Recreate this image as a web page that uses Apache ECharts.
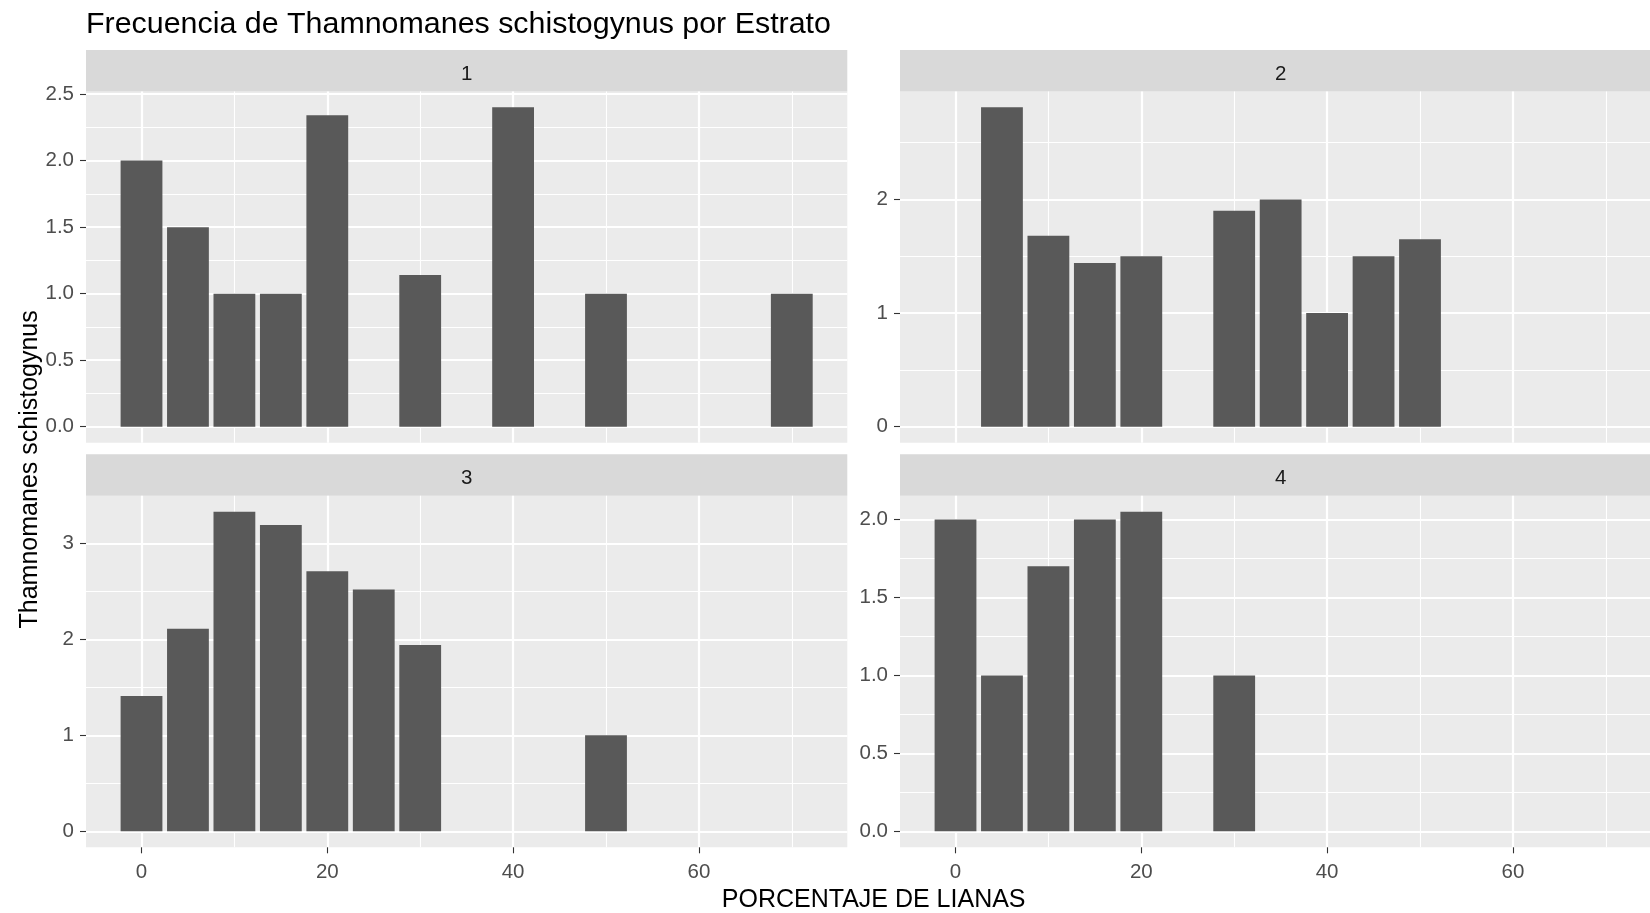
<!DOCTYPE html>
<html><head><meta charset="utf-8">
<script src="https://cdn.jsdelivr.net/npm/echarts@6/dist/echarts.min.js"></script>
<style>html,body{margin:0;padding:0;background:#fff}#c{width:1650px;height:913px}</style>
</head><body><div id="c"></div>
<script>
// ---- data ----
const titleText = 'Frecuencia de Thamnomanes schistogynus por Estrato';
const xTitle = 'PORCENTAJE DE LIANAS';
const yTitle = 'Thamnomanes schistogynus';
const panelNames = ['1', '2', '3', '4'];
const x1 = [0, 5, 10, 15, 20, 30, 40, 50, 70];
const y1 = [2.0, 1.5, 1.0, 1.0, 2.34, 1.14, 2.40, 1.0, 1.0];
const x2 = [5, 10, 15, 20, 30, 35, 40, 45, 50];
const y2 = [2.81, 1.68, 1.44, 1.5, 1.9, 2.0, 1.0, 1.5, 1.65];
const x3 = [0, 5, 10, 15, 20, 25, 30, 50];
const y3 = [1.41, 2.11, 3.33, 3.19, 2.71, 2.52, 1.94, 1.0];
const x4 = [0, 5, 10, 15, 20, 30];
const y4 = [2.0, 1.0, 1.7, 2.0, 2.05, 1.0];
const xTicks = [0, 20, 40, 60];
const yTicks1 = [0, 0.5, 1, 1.5, 2, 2.5];
const yTicks2 = [0, 1, 2];
const yTicks3 = [0, 1, 2, 3];
const yTicks4 = [0, 0.5, 1, 1.5, 2];

// ---- layout ----
const FONT = '"Liberation Sans", Arial, sans-serif';
const panelW = 761.3;
const cols = [86, 900];
const rows = [{strip: 50, top: 91.4, bottom: 442.7}, {strip: 454.3, top: 495.7, bottom: 847.3}];
const xsAll = [x1, x2, x3, x4];
const ysAll = [y1, y2, y3, y4];
const yTicksAll = [yTicks1, yTicks2, yTicks3, yTicks4];

const barHalf = 2.25;
const allX = [].concat(x1, x2, x3, x4);
const dxMin = Math.min(...allX) - barHalf, dxMax = Math.max(...allX) + barHalf;
const xPad = (dxMax - dxMin) * 0.05;
const xMin = dxMin - xPad, xMax = dxMax + xPad;
const pxPerUnit = panelW / (xMax - xMin);

const grids = [], xAxes = [], yAxes = [], series = [], graphics = [];
for (let i = 0; i < 4; i++) {
  const r = rows[Math.floor(i / 2)], c = cols[i % 2];
  const bottomRow = i >= 2;
  // right-hand panels are cut by the page edge, as in the original
  const w = Math.min(panelW, 1650 - c);
  const thisXMax = xMin + w / pxPerUnit;
  grids.push({left: c, top: r.top, width: w, height: r.bottom - r.top,
    show: true, backgroundColor: '#EBEBEB', borderWidth: 0, containLabel: false});
  xAxes.push({type: 'value', gridIndex: i, min: xMin, max: thisXMax, position: 'bottom',
    minInterval: 20, maxInterval: 20,
    axisLine: {show: false, onZero: false},
    axisTick: {show: bottomRow, length: 6, lineStyle: {color: '#333333', width: 1.1}, customValues: xTicks},
    axisLabel: {show: bottomRow, customValues: xTicks, color: '#4D4D4D', fontSize: 20.5, fontFamily: FONT, margin: 15},
    splitLine: {show: true, lineStyle: {color: '#FFFFFF', width: 2.2}},
    minorTick: {show: false, splitNumber: 2},
    minorSplitLine: {show: true, lineStyle: {color: '#FFFFFF', width: 1.1}}
  });
  const ys = ysAll[i], ticks = yTicksAll[i];
  const yMaxD = Math.max(...ys);
  const step = ticks[1] - ticks[0];
  const dec = ticks.some(t => Math.round(t) !== t) ? 1 : 0;
  yAxes.push({type: 'value', gridIndex: i, min: -0.05 * yMaxD, max: 1.05 * yMaxD, position: 'left',
    minInterval: step, maxInterval: step,
    axisLine: {show: false, onZero: false},
    axisTick: {show: true, length: 6, lineStyle: {color: '#333333', width: 1.1}, customValues: ticks},
    axisLabel: {show: true, customValues: ticks, color: '#4D4D4D', fontSize: 20.5, fontFamily: FONT, margin: 12,
      padding: [6, 0, 0, 0], formatter: v => Number(v).toFixed(dec)},
    splitLine: {show: true, lineStyle: {color: '#FFFFFF', width: 2.2}},
    minorTick: {show: false, splitNumber: 2},
    minorSplitLine: {show: true, lineStyle: {color: '#FFFFFF', width: 1.1}}
  });
  series.push({type: 'bar', xAxisIndex: i, yAxisIndex: i, barWidth: '90%',
    data: xsAll[i].map((x, k) => [x, ys[k]]),
    itemStyle: {color: '#595959'}, silent: true, animation: false});
  graphics.push({type: 'rect', shape: {x: c, y: r.strip, width: panelW, height: r.top - r.strip},
    style: {fill: '#D9D9D9'}, silent: true});
  graphics.push({type: 'text', x: c + panelW / 2, y: (r.strip + r.top) / 2 + 3.5,
    style: {text: panelNames[i], fill: '#1A1A1A', font: '20.5px ' + FONT, textAlign: 'center', textVerticalAlign: 'middle'}, silent: true});
}
graphics.push({type: 'text', x: (cols[0] + cols[1] + panelW) / 2, y: 900.5,
  style: {text: xTitle, fill: '#000000', font: '25px ' + FONT, textAlign: 'center', textVerticalAlign: 'middle'}});
graphics.push({type: 'text', x: 30.5, y: (rows[0].top + rows[1].bottom) / 2, rotation: Math.PI / 2,
  style: {text: yTitle, fill: '#000000', font: '25px ' + FONT, textAlign: 'center', textVerticalAlign: 'middle'}});

const chart = echarts.init(document.getElementById('c'), null, {renderer: 'canvas'});
chart.setOption({
  animation: false,
  backgroundColor: '#FFFFFF',
  title: {text: titleText, left: 86, top: 10, padding: 0,
    textStyle: {color: '#000000', fontSize: 30.4, fontWeight: 'normal', fontFamily: FONT}},
  grid: grids, xAxis: xAxes, yAxis: yAxes, series: series,
  graphic: graphics
});
</script></body></html>
